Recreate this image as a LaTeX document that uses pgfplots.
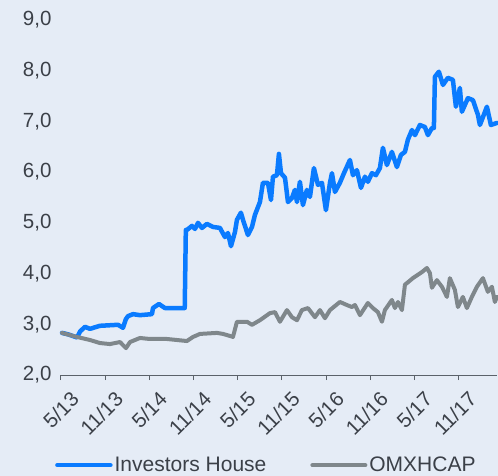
\documentclass[border=0pt]{standalone}
\usepackage{pgfplots}
\pgfplotsset{compat=1.18}
\usepackage{fontspec}
\setmainfont{Liberation Sans}
\definecolor{bgc}{HTML}{E5ECF6}
\definecolor{ihblue}{HTML}{0A7BFF}
\definecolor{omxgray}{HTML}{7F878B}
\definecolor{txt}{HTML}{3B4048}
\definecolor{axl}{HTML}{5B626A}
\begin{document}
\begin{tikzpicture}
\path[use as bounding box] (-61bp,-101bp) rectangle (437bp,375bp);
\fill[bgc] (-61bp,-101bp) rectangle (437bp,375bp);
\begin{axis}[
  at={(0,0)}, anchor=south west,
  scale only axis, width=436bp, height=355bp,
  xmin=0, xmax=59.2, ymin=2, ymax=9,
  axis x line=bottom, axis y line=left,
  axis line style={-, draw=axl, line width=1bp},
  y axis line style={draw=none},
  ytick={2,3,...,9},
  ytick style={draw=none},
  xtick={0,6,12,18,24,30,36,42,48,54},
  xticklabels={5/13,11/13,5/14,11/14,5/15,11/15,5/16,11/16,5/17,11/17},
  tick align=outside,
  major tick length=5bp,
  xtick style={draw=axl, line width=1bp},
  font=\fontsize{20.5bp}{24bp}\selectfont,
  tick label style={text=txt},
  /pgf/number format/assume math mode=true,
  yticklabel={\pgfmathprintnumber[fixed,fixed zerofill,precision=1,use comma]{\tick}},
  yticklabel style={xshift=-1bp},
  xticklabel style={rotate=45, anchor=east, inner sep=0pt, xshift=-1bp, yshift=-21bp},
  legend style={at={(0.471,-0.254)}, anchor=center, draw=none, fill=none,
    legend columns=2, font=\fontsize{21bp}{24bp}\selectfont, text=txt,
    /tikz/every even column/.append style={column sep=42bp}},
  legend image code/.code={\draw[#1] (0bp,0bp) -- (53bp,0bp);},
  legend cell align=left,
  clip=false,
]
\addplot[ihblue, line width=4.5bp, line join=round, line cap=round] coordinates {
(0.14,2.83)(1.0,2.80)(2.17,2.74)(2.6,2.86)(3.26,2.95)(3.94,2.91)(4.6,2.94)(5.29,2.97)
(7.74,2.99)(8.42,2.93)(8.8,3.10)(9.10,3.16)(9.77,3.20)(10.72,3.18)(12.35,3.20)(12.49,3.32)
(13.30,3.40)(14.12,3.32)(16.56,3.32)(16.8,3.32)(16.95,4.86)(17.10,4.86)(17.78,4.94)(18.19,4.88)
(18.60,5.00)(19.14,4.90)(19.82,4.98)(20.63,4.92)(21.58,4.90)(22.26,4.72)(22.67,4.80)(23.08,4.54)
(23.62,4.82)(23.89,5.06)(24.43,5.20)(24.71,5.06)(25.38,4.76)(25.93,4.92)(26.34,5.16)(27.01,5.41)
(27.42,5.79)(28.10,5.79)(28.51,5.45)(28.78,5.91)(29.32,5.94)(29.59,6.36)(29.87,5.98)(30.41,5.89)
(30.82,5.41)(31.36,5.49)(31.76,5.65)(32.04,5.41)(32.44,5.81)(32.85,5.35)(33.39,5.65)(33.80,5.51)
(34.34,6.08)(34.89,5.75)(35.43,5.79)(35.97,5.25)(36.52,5.79)(36.79,5.98)(37.20,5.61)(37.87,5.79)
(38.42,5.98)(39.23,6.24)(39.64,5.94)(40.18,6.04)(40.73,5.69)(41.27,5.91)(41.67,5.81)(42.22,5.98)
(42.76,5.94)(43.30,6.08)(43.71,6.48)(44.25,6.14)(44.93,6.40)(45.61,6.10)(46.16,6.34)(46.70,6.40)
(47.10,6.64)(47.65,6.83)(48.06,6.73)(48.73,6.93)(49.41,6.89)(49.82,6.73)
(50.36,6.87)(50.63,6.87)(50.77,7.88)(51.31,7.98)(51.86,7.72)(52.53,7.86)(53.21,7.82)(53.62,7.29)
(54.16,7.66)(54.43,7.19)(55.25,7.46)(55.93,7.42)(56.61,7.13)(56.88,6.93)(57.83,7.29)(58.37,6.93)
(59.19,6.97)
};
\addlegendentry{Investors House}
\addplot[omxgray, line width=4bp, line join=round, line cap=round] coordinates {
(0.14,2.83)(2.17,2.75)(3.94,2.69)(5.29,2.63)(6.65,2.61)(8.01,2.65)(8.82,2.53)(9.37,2.65)
(10.72,2.73)(12.08,2.71)(14.39,2.71)(17.10,2.67)(17.92,2.75)(18.87,2.81)(21.18,2.83)(21.99,2.81)
(22.94,2.77)(23.35,2.75)(23.89,3.05)(25.25,3.05)(25.93,2.99)(27.01,3.08)(28.37,3.22)(29.05,3.24)
(29.73,3.05)(30.68,3.28)(31.36,3.14)(32.04,3.08)(32.71,3.28)(33.53,3.32)(34.48,3.14)(35.16,3.28)
(35.84,3.12)(36.52,3.28)(37.87,3.44)(38.82,3.38)(39.50,3.34)(39.91,3.38)(40.59,3.18)(41.67,3.42)
(42.35,3.32)(43.03,3.24)(43.58,3.05)(43.98,3.28)(44.93,3.48)(45.34,3.32)(45.75,3.44)(46.29,3.28)
(46.70,3.78)(47.78,3.91)(49.01,4.03)(49.68,4.11)(50.09,4.01)(50.36,3.72)(51.04,3.87)(51.72,3.74)
(52.40,3.54)(52.80,3.91)(53.48,3.68)(53.89,3.34)(54.57,3.54)(55.11,3.32)(55.79,3.54)(56.47,3.74)
(57.29,3.91)(57.96,3.64)(58.51,3.74)(58.91,3.44)(59.19,3.54)
};
\addlegendentry{OMXHCAP}
\end{axis}
\end{tikzpicture}
\end{document}
